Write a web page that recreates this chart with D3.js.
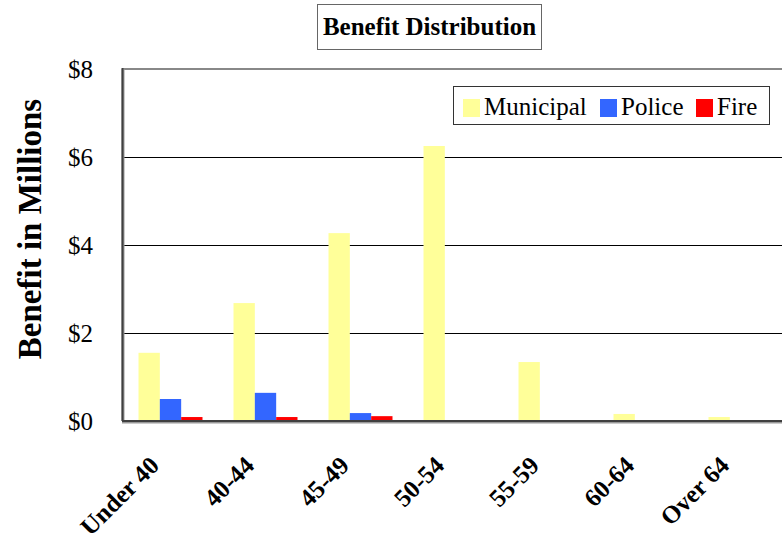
<!DOCTYPE html>
<html>
<head>
<meta charset="utf-8">
<script src="https://cdn.jsdelivr.net/npm/d3@7"></script>
<style>
  body { margin: 0; background: #fff; }
  text { font-family: "Liberation Serif", "Times New Roman", serif; fill: #000; }
</style>
</head>
<body>
<div id="chart"></div>
<script>
// chart data
var categories = ["Under 40", "40-44", "45-49", "50-54", "55-59", "60-64", "Over 64"];
var seriesNames = ["Municipal", "Police", "Fire"];
var municipal = [1.55, 2.68, 4.27, 6.25, 1.34, 0.16, 0.09];
var police = [0.50, 0.64, 0.18, 0, 0, 0, 0];
var fire = [0.09, 0.09, 0.11, 0, 0, 0, 0];
var yTicks = [0, 2, 4, 6, 8];
var colors = ["#ffff99", "#3366ff", "#ff0000"];

var W = 782, H = 539;
var margin = {top: 69, left: 123, bottom: 118};
var step = 95;

var svg = d3.select("#chart").append("svg")
    .attr("width", W)
    .attr("height", H);

// set the ranges
var x = d3.scaleBand()
    .domain(categories)
    .range([margin.left, margin.left + step * categories.length])
    .paddingInner(0)
    .paddingOuter(0);

var xSeries = d3.scaleBand()
    .domain(seriesNames)
    .range([15.5, step - 15.5]);

var y = d3.scaleLinear()
    .domain([0, 8])
    .range([H - margin.bottom, margin.top]);

var data = categories.map(function (c, i) {
    return {cat: c, values: [municipal[i], police[i], fire[i]]};
});

// gridlines
svg.append("g")
    .selectAll("line")
    .data(yTicks.filter(function (t) { return t > 0 && t < 8; }))
    .enter().append("line")
    .attr("x1", margin.left)
    .attr("x2", W)
    .attr("y1", function (d) { return Math.round(y(d)) + 0.5; })
    .attr("y2", function (d) { return Math.round(y(d)) + 0.5; })
    .style("stroke", "#000")
    .style("stroke-width", 1);

// top border
svg.append("line")
    .attr("x1", margin.left).attr("x2", W)
    .attr("y1", y(8)).attr("y2", y(8))
    .style("stroke", "#888")
    .style("stroke-width", 2);

// bars
var groups = svg.append("g")
    .selectAll("g")
    .data(data)
    .enter().append("g")
    .attr("transform", function (d) { return "translate(" + x(d.cat) + ",0)"; });

groups.selectAll("rect")
    .data(function (d) { return d.values.map(function (v, j) { return {name: seriesNames[j], value: v, color: colors[j]}; }); })
    .enter().append("rect")
    .filter(function (d) { return d.value > 0; })
    .attr("x", function (d) { return xSeries(d.name); })
    .attr("width", xSeries.bandwidth())
    .attr("y", function (d) { return y(d.value); })
    .attr("height", function (d) { return y(0) - y(d.value); })
    .style("fill", function (d) { return d.color; });

// axes lines with a little shadow
svg.append("line")
    .attr("x1", margin.left - 1).attr("x2", W)
    .attr("y1", y(0) + 1).attr("y2", y(0) + 1)
    .style("stroke", "#999").style("stroke-width", 3);
svg.append("line")
    .attr("x1", margin.left).attr("x2", margin.left)
    .attr("y1", y(8)).attr("y2", y(0))
    .style("stroke", "#999").style("stroke-width", 3);
svg.append("line")
    .attr("x1", margin.left - 1).attr("x2", W)
    .attr("y1", y(0)).attr("y2", y(0))
    .style("stroke", "#404040").style("stroke-width", 2);
svg.append("line")
    .attr("x1", margin.left - 0.5).attr("x2", margin.left - 0.5)
    .attr("y1", y(8) - 1).attr("y2", y(0))
    .style("stroke", "#404040").style("stroke-width", 2);

// y tick labels
svg.append("g")
    .selectAll("text")
    .data(yTicks)
    .enter().append("text")
    .attr("x", 93)
    .attr("y", function (d) { return y(d); })
    .attr("dy", "0.35em")
    .attr("text-anchor", "end")
    .style("font-size", "25px")
    .text(function (d) { return "$" + d; });

// x category labels
svg.append("g")
    .selectAll("text")
    .data(categories)
    .enter().append("text")
    .attr("transform", function (d) {
        return "translate(" + (x(d) + x.bandwidth() / 2 - 10) + "," + (y(0) + 46) + ") rotate(-45)";
    })
    .attr("text-anchor", "end")
    .style("font-size", "25px")
    .style("font-weight", "bold")
    .text(function (d) { return d; });

// y axis title
svg.append("text")
    .attr("transform", "translate(41," + 229 + ") rotate(-90)")
    .attr("text-anchor", "middle")
    .style("font-size", "33px")
    .style("font-weight", "bold")
    .text("Benefit in Millions");

// title box
svg.append("rect")
    .attr("x", 317.5).attr("y", 4.5)
    .attr("width", 224).attr("height", 45)
    .style("fill", "#fff")
    .style("stroke", "#666");
svg.append("text")
    .attr("x", 429.5)
    .attr("y", 35)
    .attr("text-anchor", "middle")
    .style("font-size", "25px")
    .style("font-weight", "bold")
    .text("Benefit Distribution");

// legend
var legend = svg.append("g");
legend.append("rect")
    .attr("x", 453.5).attr("y", 86.5)
    .attr("width", 316).attr("height", 38)
    .style("fill", "#fff")
    .style("stroke", "#333");

var legendX = [463, 600, 696];
var items = legend.selectAll("g.item")
    .data(seriesNames)
    .enter().append("g")
    .attr("class", "item")
    .attr("transform", function (d, i) { return "translate(" + legendX[i] + ",0)"; });
items.append("rect")
    .attr("x", 0).attr("y", 99)
    .attr("width", 17).attr("height", 18)
    .style("fill", function (d, i) { return colors[i]; });
items.append("text")
    .attr("x", 21)
    .attr("y", 115)
    .style("font-size", "25px")
    .text(function (d) { return d; });
</script>
</body>
</html>
